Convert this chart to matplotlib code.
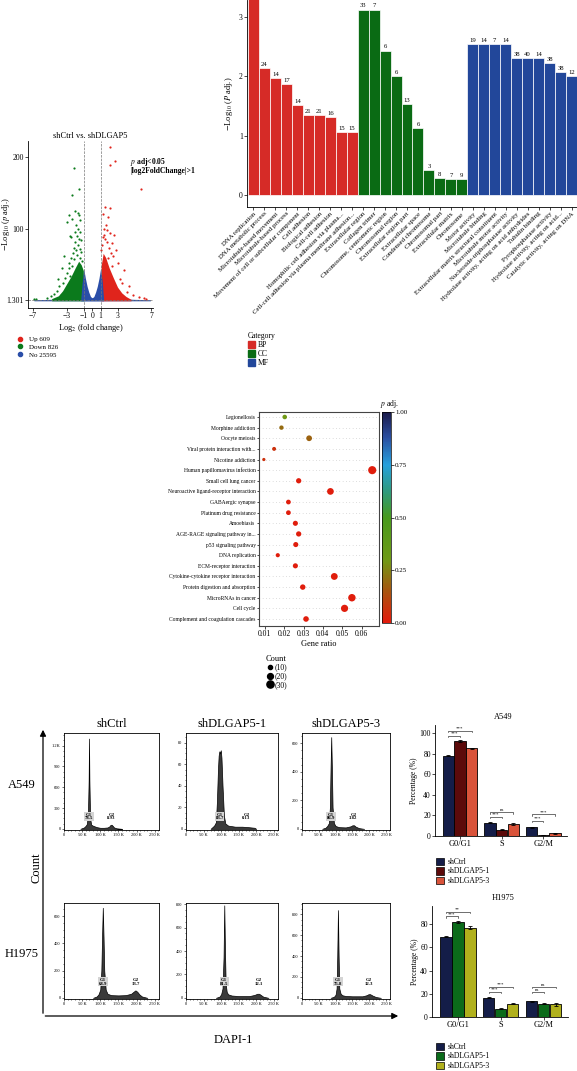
import matplotlib
matplotlib.use("Agg")
import matplotlib.pyplot as plt
from matplotlib.colors import LinearSegmentedColormap
from matplotlib.patches import Patch
from matplotlib.lines import Line2D

plt.rcParams["font.family"] = ["Liberation Serif", "DejaVu Serif"]
plt.rcParams["mathtext.fontset"] = "stix"
plt.rcParams["axes.linewidth"] = 0.6
plt.rcParams["xtick.major.width"] = 0.5
plt.rcParams["ytick.major.width"] = 0.5

W, H = 577, 1071

# ---------------- volcano data ----------------
green_x = [-6.9, -6.6, -5.4, -4.9, -4.5, -4.2, -3.9, -3.7, -3.4, -3.2, -3.0, -2.9, -2.8, -2.7, -2.6,
           -2.5, -2.4, -2.3, -2.2, -2.1, -2.0, -1.9, -1.8, -1.75, -1.7, -1.65, -1.6, -1.55, -1.5, -1.45,
           -1.4, -1.3, -1.2, -2.76, -2.4, -1.86, -3.0, -2.36, -1.59, -2.21, -1.7, -2.0, -2.6, -3.3, -3.6,
           -4.0, -1.5, -1.35, -2.05, -2.45]
green_y = [3, 2, 4, 6, 9, 14, 20, 8, 25, 31, 38, 22, 45, 52, 35,
           60, 48, 66, 74, 58, 82, 70, 90, 64, 100, 78, 119, 86, 95, 72,
           60, 68, 55, 119, 114, 105, 110, 147, 156, 185, 122, 96, 90, 62, 45,
           30, 112, 85, 125, 88]
red_x = [2.1, 2.69, 2.1, 5.75, 1.55, 2.1, 1.27, 1.86, 1.43, 1.7, 2.06, 2.6, 2.8, 3.8, 4.4,
         5.6, 6.4, 4.1, 3.3, 2.5, 3.0, 2.3, 2.0, 1.5, 1.2, 1.35, 1.8, 2.2, 1.1, 1.6,
         2.4, 3.5, 4.8, 6.1, 1.9, 1.25]
red_y = [214, 194, 188, 155, 130, 129, 121, 116, 100, 98, 94, 92, 70, 43, 20,
         5, 3, 12, 30, 62, 52, 80, 74, 86, 78, 92, 82, 66, 70, 105,
         48, 25, 8, 4, 60, 88]
# dense regions (upper envelope of the point clouds)
green_env_x = [-4.8, -4.0, -3.5, -3.0, -2.5, -2.0, -1.6, -1.3, -1.05, -1.0]
green_env_y = [3, 7, 14, 24, 34, 46, 55, 50, 42, 3]
red_env_x = [1.0, 1.05, 1.3, 1.6, 2.0, 2.5, 3.0, 3.5, 4.0, 4.6]
red_env_y = [3, 48, 66, 60, 46, 32, 19, 11, 6, 2]
blue_env_x = [-1.35, -1.2, -1.0, -0.8, -0.6, -0.4, -0.2, 0.0, 0.2, 0.4, 0.6, 0.8, 1.0, 1.2, 1.35]
blue_env_y = [3, 24, 44, 31, 20, 12, 6, 4, 6, 12, 20, 31, 45, 26, 3]
blue_tail_x = [-6.9, -5.0, -3.0, -1.3, 1.3, 3.0, 5.0, 6.9]
blue_tail_y = [1.5, 2, 3, 4, 4, 3, 2, 1.5]
volcano_legend = ["Up 609", "Down 826", "No 25595"]

# ---------------- GO enrichment ----------------
go_terms = ["DNA replication", "DNA metabolic process", "Microtubule-based movement",
            "Microtubule-based process", "Movement of cell or subcellular component",
            "Cell adhesion", "Biological adhesion", "Cell-cell adhesion",
            "Homophilic cell adhesion via plasma...",
            "Cell-cell adhesion via plasma membrane adhesion...",
            "Extracellular region", "Collagen trimer", "Chromosome, centromeric region",
            "Chromosomal region", "Extracellular region part", "Extracellular space",
            "Condensed chromosome", "Chromosomal part", "Extracellular matrix", "Chromosome",
            "Motor activity", "Microtubule binding", "Extracellular matrix structural constituent",
            "Microtubule motor activity", "Nucleoside-triphosphatase activity",
            "Hydrolase activity, acting on acid anhydrides", "Tubulin binding",
            "Pyrophosphatase activity", "Hydrolase activity, acting on acid...",
            "Catalytic activity, acting on DNA"]
go_values = [3.9, 2.14, 1.97, 1.86, 1.51, 1.34, 1.34, 1.31, 1.06, 1.06,
             3.12, 3.12, 2.43, 2.00, 1.53, 1.13, 0.42, 0.29, 0.27, 0.27,
             2.54, 2.54, 2.54, 2.54, 2.31, 2.31, 2.31, 2.22, 2.07, 2.00]
go_counts = [22, 24, 14, 17, 14, 21, 21, 16, 15, 15,
             33, 7, 6, 6, 13, 6, 3, 8, 7, 9,
             19, 14, 7, 14, 38, 40, 14, 38, 38, 12]
go_category = ["BP"] * 10 + ["CC"] * 10 + ["MF"] * 10
cat_colors = {"BP": "#d62b27", "CC": "#0a6b14", "MF": "#22479a"}

# ---------------- KEGG bubble ----------------
kegg_terms = ["Legionellosis", "Morphine addiction", "Oocyte meiosis",
              "Viral protein interaction with...", "Nicotine addiction",
              "Human papillomavirus infection", "Small cell lung cancer",
              "Neuroactive ligand-receptor interaction", "GABAergic synapse",
              "Platinum drug resistance", "Amoebiasis", "AGE-RAGE signaling pathway in...",
              "p53 signaling pathway", "DNA replication", "ECM-receptor interaction",
              "Cytokine-cytokine receptor interaction", "Protein digestion and absorption",
              "MicroRNAs in cancer", "Cell cycle", "Complement and coagulation cascades"]
kegg_ratio = [0.0203, 0.0186, 0.0329, 0.0148, 0.0095, 0.0655, 0.0275, 0.0439, 0.0222, 0.0222,
              0.0258, 0.0275, 0.0260, 0.0167, 0.0258, 0.0459, 0.0296, 0.0550, 0.0512, 0.0313]
kegg_count = [12, 11, 19, 9, 6, 38, 16, 26, 13, 13, 15, 16, 15, 10, 15, 27, 17, 32, 30, 18]
kegg_padj = [0.30, 0.20, 0.18, 0.06, 0.06, 0.01, 0.01, 0.01, 0.01, 0.01,
             0.01, 0.01, 0.01, 0.01, 0.01, 0.01, 0.01, 0.01, 0.01, 0.01]

# ---------------- flow cytometry histograms (DNA content in K) ----------------
a549_ctrl_x = [45, 55, 60, 63, 66, 68, 69, 70, 72, 75, 80, 90, 100, 110, 120, 125, 128, 131, 134, 138, 145, 160]
a549_ctrl_y = [0, 20, 45, 70, 200, 700, 1300, 700, 150, 60, 45, 25, 15, 15, 20, 35, 55, 60, 45, 20, 8, 0]
a549_sh1_x = [70, 80, 85, 88, 91, 93, 95, 97, 99, 101, 104, 108, 112, 120, 140, 160, 180, 195, 200]
a549_sh1_y = [0, 3, 6, 25, 55, 68, 72, 70, 73, 66, 40, 12, 5, 3, 2, 2, 1.5, 1, 0]
a549_sh3_x = [60, 70, 75, 80, 83, 85, 87, 89, 91, 95, 100, 110, 130, 145, 150, 155, 160, 170, 185]
a549_sh3_y = [0, 8, 20, 40, 150, 420, 643, 420, 150, 40, 20, 12, 10, 18, 25, 25, 15, 5, 0]
h1975_ctrl_x = [80, 90, 95, 100, 103, 105, 107, 109, 111, 115, 120, 130, 150, 170, 185, 192, 197, 202, 208, 215, 230]
h1975_ctrl_y = [0, 10, 25, 60, 200, 450, 661, 450, 200, 60, 30, 20, 18, 20, 30, 45, 55, 45, 25, 10, 0]
h1975_sh1_x = [85, 95, 100, 104, 107, 109, 111, 113, 116, 120, 130, 150, 180, 195, 203, 208, 213, 220, 235]
h1975_sh1_y = [0, 10, 30, 80, 350, 790, 400, 120, 50, 30, 20, 15, 15, 25, 35, 35, 25, 10, 0]
h1975_sh3_x = [85, 95, 100, 103, 105, 107, 109, 111, 115, 120, 130, 150, 180, 192, 198, 203, 210, 220, 235]
h1975_sh3_y = [0, 10, 30, 90, 400, 840, 400, 90, 40, 25, 18, 15, 15, 25, 35, 35, 22, 8, 0]
flow_g1 = ["78.5", "83.7", "86.9", "68.9", "81.5", "75.8"]
flow_g2 = ["8.93", "0.13", "3.82", "13.7", "12.1", "12.3"]
flow_g1_pos = [69, 96, 87, 107, 109, 107]
flow_g2_pos = [131, 172, 153, 197, 208, 200]
flow_ymax = [1380, 89, 672, 696, 810, 908]
flow_yticks = [[0, 300, 600, 900, 1200], [0, 20, 40, 60, 80], [0, 200, 400, 600],
               [0, 200, 400, 600], [0, 200, 400, 600, 800], [0, 200, 400, 600, 800]]
flow_xticks = [0, 50, 100, 150, 200, 250]
flow_xlabels = ["0", "50 K", "100 K", "150 K", "200 K", "250 K"]
flow_cols = ["shCtrl", "shDLGAP5-1", "shDLGAP5-3"]
flow_rows = ["A549", "H1975"]

# ---------------- cell cycle percentages ----------------
phases = ["G0/G1", "S", "G2/M"]
a549_groups = ["shCtrl", "shDLGAP5-1", "shDLGAP5-3"]
a549_ctrl = [78.3, 13.0, 8.5]
a549_sh1 = [92.3, 6.3, 0.9]
a549_sh3 = [85.2, 11.7, 2.7]
a549_err = [[0.8, 0.8, 0.5], [0.9, 0.6, 0.2], [0.6, 0.7, 0.4]]
a549_sig_text = [["***", "***"], ["***", "ns"], ["***", "***"]]
a549_sig_y = [[97.7, 102.5], [18.8, 23.0], [14.9, 21.0]]
h1975_ctrl = [69.0, 16.5, 13.5]
h1975_sh1 = [81.5, 7.0, 11.5]
h1975_sh3 = [77.0, 11.5, 10.8]
h1975_err = [[0.6, 0.5, 0.6], [0.8, 0.5, 0.6], [1.6, 0.5, 1.5]]
h1975_sig_text = [["***", "**"], ["***", "***"], ["ns", "ns"]]
h1975_sig_y = [[86.5, 90.5], [21.5, 25.7], [21.5, 25.7]]


def box(l, t, r, b):
    return [l / W, 1 - b / H, (r - l) / W, (b - t) / H]


fig = plt.figure(figsize=(W / 100, H / 100), dpi=100)
ov = fig.add_axes([0, 0, 1, 1])
ov.set_xlim(0, W)
ov.set_ylim(H, 0)
ov.axis("off")
ov.set_zorder(10)
ov.patch.set_alpha(0)

# ================= volcano =================
ax = fig.add_axes(box(28, 141, 153, 308))
ax.fill_between(blue_tail_x, 0, blue_tail_y, color="#2a4ea8", lw=0)
ax.fill_between(green_env_x, 0, green_env_y, color="#0b7a1c", lw=0)
ax.fill_between(red_env_x, 0, red_env_y, color="#e0241c", lw=0)
ax.fill_between(blue_env_x, 0, blue_env_y, color="#2a4ea8", lw=0)
ax.scatter(green_x, green_y, s=2.5, color="#0b7a1c", lw=0)
ax.scatter(red_x, red_y, s=2.5, color="#e0241c", lw=0)
ax.axvline(-1, color="#777777", ls="--", lw=0.5)
ax.axvline(1, color="#777777", ls="--", lw=0.5)
ax.axhline(1.301, color="#777777", ls="--", lw=0.5)
ax.set_xlim(-7.6, 7.2)
ax.set_ylim(-10, 222)
ax.set_xticks([-7, -3, -1, 0, 1, 3, 7])
ax.set_yticks([1.301, 100, 200])
ax.set_yticklabels(["1.301", "100", "200"])
ax.tick_params(labelsize=5.5, length=2, pad=1)
for s in ["top", "right"]:
    ax.spines[s].set_visible(False)
ax.set_title("shCtrl vs. shDLGAP5", fontsize=6, pad=2)
ax.set_xlabel("Log$_2$ (fold change)", fontsize=6, labelpad=1)
ax.set_ylabel("$-$Log$_{10}$ ($p$ adj.)", fontsize=6)
ax.yaxis.set_label_coords(-0.125, 0.5)
ov.text(130, 162, "$p$ adj<0.05", fontsize=5.5, fontweight="bold", va="center")
ov.text(130, 171, "|log2FoldChange|>1", fontsize=5.5, fontweight="bold", va="center")
vh = [Line2D([], [], marker="o", ls="", color=c, markersize=3)
      for c in ["#e0241c", "#0b7a1c", "#2a4ea8"]]
fig.legend(vh, volcano_legend, loc="upper left", bbox_to_anchor=(10 / W, 1 - 333 / H),
           frameon=False, fontsize=5, handletextpad=0.2, labelspacing=0.25, borderpad=0)

# ================= GO bar chart =================
ax = fig.add_axes(box(247, 0, 577, 207))
xs = list(range(len(go_terms)))
ax.bar(xs, go_values, width=1.0, color=[cat_colors[c] for c in go_category],
       edgecolor="white", lw=0.5)
ytop = 3.28
for x, v, c in zip(xs, go_values, go_counts):
    if v + 0.12 < ytop:
        ax.text(x, v + 0.02, str(c), ha="center", va="bottom", fontsize=4.8)
ax.set_xlim(-0.59, 29.5)
ax.set_ylim(-0.2, ytop)
ax.set_yticks([0, 1, 2, 3])
ax.set_xticks(xs)
ax.set_xticklabels(go_terms, rotation=45, ha="right", rotation_mode="anchor", fontsize=4.9)
ax.tick_params(axis="y", labelsize=5.5, length=2, pad=1)
ax.tick_params(axis="x", length=2, pad=1)
for s in ["top", "right"]:
    ax.spines[s].set_visible(False)
ax.set_ylabel("$-$Log$_{10}$ ($P$ adj.)", fontsize=6, labelpad=3)
ch = [Patch(color=cat_colors[k]) for k in ["BP", "CC", "MF"]]
lg = fig.legend(ch, ["BP", "CC", "MF"], title="Category", loc="upper left",
                bbox_to_anchor=(244 / W, 1 - 328 / H), frameon=False, fontsize=5.5,
                title_fontsize=5.5, handlelength=0.9, handleheight=0.9,
                handletextpad=0.4, labelspacing=0.15, borderpad=0)
lg._legend_box.align = "left"

# ================= KEGG bubble chart =================
cmap = LinearSegmentedColormap.from_list("padj", [
    (0.0, "#e31a0c"), (0.15, "#a8540f"), (0.3, "#6f9a16"), (0.5, "#479a1c"),
    (0.62, "#2f9a7a"), (0.75, "#26a0dc"), (0.88, "#2a4ea0"), (1.0, "#1b1a4a")])
ax = fig.add_axes(box(259, 412, 379, 626))
ys = [len(kegg_terms) - 1 - i for i in range(len(kegg_terms))]
ax.set_yticks(ys)
ax.set_yticklabels(kegg_terms, fontsize=4.0)
ax.set_xticks([0.01, 0.02, 0.03, 0.04, 0.05, 0.06])
ax.grid(axis="y", color="#9a9a9a", lw=0.4, ls=(0, (1, 5)))
ax.set_axisbelow(True)
sc = ax.scatter(kegg_ratio, ys, s=[c * 0.9 for c in kegg_count], c=kegg_padj,
                cmap=cmap, vmin=0, vmax=1, lw=0, zorder=3)
ax.set_xlim(0.007, 0.069)
ax.set_ylim(-0.66, 19.47)
ax.tick_params(axis="x", labelsize=5.5, length=2, pad=1)
ax.tick_params(axis="y", length=1.5, pad=1)
for s in ax.spines.values():
    s.set_color("#444444")
    s.set_linewidth(0.8)
ax.set_xlabel("Gene ratio", fontsize=6, labelpad=1)
cax = fig.add_axes(box(382, 412, 391, 623))
cb = fig.colorbar(sc, cax=cax, ticks=[0, 0.25, 0.5, 0.75, 1.0])
cb.ax.set_yticklabels(["0.00", "0.25", "0.50", "0.75", "1.00"])
cb.ax.tick_params(labelsize=5, length=2, pad=1)
cb.outline.set_linewidth(0.5)
ov.text(380, 404, "$p$ adj.", fontsize=5.5, va="center")
kh = [Line2D([], [], marker="o", ls="", color="k", markersize=(c * 0.9) ** 0.5)
      for c in [10, 20, 30]]
lg = fig.legend(kh, ["(10)", "(20)", "(30)"], title="Count", loc="upper left",
                bbox_to_anchor=(262 / W, 1 - 651 / H), frameon=False, fontsize=5.5,
                title_fontsize=6, handletextpad=0.2, labelspacing=0.1, borderpad=0,
                handlelength=1)
lg._legend_box.align = "left"

# ================= flow cytometry =================
hx = [a549_ctrl_x, a549_sh1_x, a549_sh3_x, h1975_ctrl_x, h1975_sh1_x, h1975_sh3_x]
hy = [a549_ctrl_y, a549_sh1_y, a549_sh3_y, h1975_ctrl_y, h1975_sh1_y, h1975_sh3_y]
col_px = [(64, 159), (186, 278), (302, 390)]
row_px = [(733, 830), (903, 999)]
for k in range(6):
    r, c = divmod(k, 3)
    ax = fig.add_axes(box(col_px[c][0], row_px[r][0], col_px[c][1], row_px[r][1]))
    ax.fill_between(hx[k], 0, hy[k], color="#3a3a3a", edgecolor="black", lw=0.5)
    ymax = flow_ymax[k]
    ax.set_xlim(0, 262)
    ax.set_ylim(-0.012 * ymax, ymax)
    ax.set_xticks(flow_xticks)
    ax.set_xticklabels(flow_xlabels)
    ax.set_yticks(flow_yticks[k])
    if k == 0:
        ax.set_yticklabels(["0", "300", "600", "900", "1.2K"])
    ax.set_xticks(range(0, 262, 10), minor=True)
    yt = flow_yticks[k]
    step = (yt[1] - yt[0]) / 4
    ax.set_yticks([i * step for i in range(int(ymax / step) + 1)], minor=True)
    ax.tick_params(which="both", labelsize=3.2, length=1.5, pad=1, width=0.4)
    ax.tick_params(which="minor", length=1)
    hb = 0.13 if r == 0 else 0.17
    ax.text(flow_g1_pos[k], ymax * hb, "G1\n" + flow_g1[k], ha="center", va="center",
            fontsize=3.4, fontweight="bold", linespacing=0.9,
            bbox=dict(fc="#d4d4d4", ec="none", pad=0.4))
    ax.text(flow_g2_pos[k], ymax * hb, "G2\n" + flow_g2[k], ha="center", va="center",
            fontsize=3.4, fontweight="bold", linespacing=0.9)
    if r == 0:
        ov.text((col_px[c][0] + col_px[c][1]) / 2, 724, flow_cols[c], fontsize=9,
                ha="center", va="center")

ov.text(22, 785, flow_rows[0], fontsize=9, ha="center", va="center")
ov.text(22, 954, flow_rows[1], fontsize=9, ha="center", va="center")
ov.text(37, 868, "Count", fontsize=9, ha="center", va="center", rotation=90)
ov.text(233, 1040, "DAPI-1", fontsize=9, ha="center", va="center")
ov.annotate("", xy=(43, 727), xytext=(43, 1016),
            arrowprops=dict(arrowstyle="-|>", color="black", lw=0.9, mutation_scale=9))
ov.annotate("", xy=(401, 1016), xytext=(42.5, 1016),
            arrowprops=dict(arrowstyle="-|>", color="black", lw=0.9, mutation_scale=9))


# ================= cell-cycle bar charts =================
def bracket(ax, x1, x2, y, txt, top):
    d = top * 0.012
    ax.plot([x1, x1, x2, x2], [y - d, y, y, y - d], color="black", lw=0.4)
    ax.text((x1 + x2) / 2, y + d * 0.2, txt, ha="center", va="bottom", fontsize=3.5)


def phase_bars(rect, series, errs, colors, sig_text, sig_y, top, yticks, title, leg_y):
    ax = fig.add_axes(box(*rect))
    offs = [-0.28, 0.0, 0.28]
    for j, vals in enumerate(series):
        xsj = [i + offs[j] for i in range(len(phases))]
        ax.bar(xsj, vals, width=0.27, color=colors[j], edgecolor="black", lw=0.6,
               yerr=errs[j], error_kw=dict(lw=0.6, capsize=1.2, capthick=0.6))
    for i in range(len(phases)):
        for j in range(2):
            bracket(ax, i + offs[0], i + offs[j + 1], sig_y[i][j], sig_text[i][j], top)
    ax.set_xlim(-0.6, 2.57)
    ax.set_ylim(0, top)
    ax.set_yticks(yticks)
    ax.set_xticks(range(len(phases)))
    ax.set_xticklabels(phases, fontsize=6)
    ax.tick_params(axis="y", labelsize=5.5, length=2, pad=1)
    ax.tick_params(axis="x", length=2, pad=1)
    for s in ["top", "right"]:
        ax.spines[s].set_visible(False)
    ax.set_ylabel("Percentage (%)", fontsize=5.5, labelpad=1)
    ax.set_title(title, fontsize=6, pad=4, x=0.52)
    hd = [Patch(facecolor=c, edgecolor="black", lw=0.5) for c in colors]
    fig.legend(hd, a549_groups, loc="upper left", bbox_to_anchor=(432 / W, 1 - leg_y / H),
               frameon=False, fontsize=5.5, handlelength=1.1, handleheight=1.1,
               handletextpad=0.4, labelspacing=0.15, borderpad=0)


phase_bars((435, 725, 567, 836), [a549_ctrl, a549_sh1, a549_sh3], a549_err,
           ["#141d48", "#5c0a0a", "#d9533a"], a549_sig_text, a549_sig_y, 108,
           [0, 20, 40, 60, 80, 100], "A549", 854)
phase_bars((432, 906, 568, 1017), [h1975_ctrl, h1975_sh1, h1975_sh3], h1975_err,
           ["#141d48", "#0b6b1a", "#b0b01c"], h1975_sig_text, h1975_sig_y, 95.5,
           [0, 20, 40, 60, 80], "H1975", 1039)

fig.savefig("out.png", dpi=100)
